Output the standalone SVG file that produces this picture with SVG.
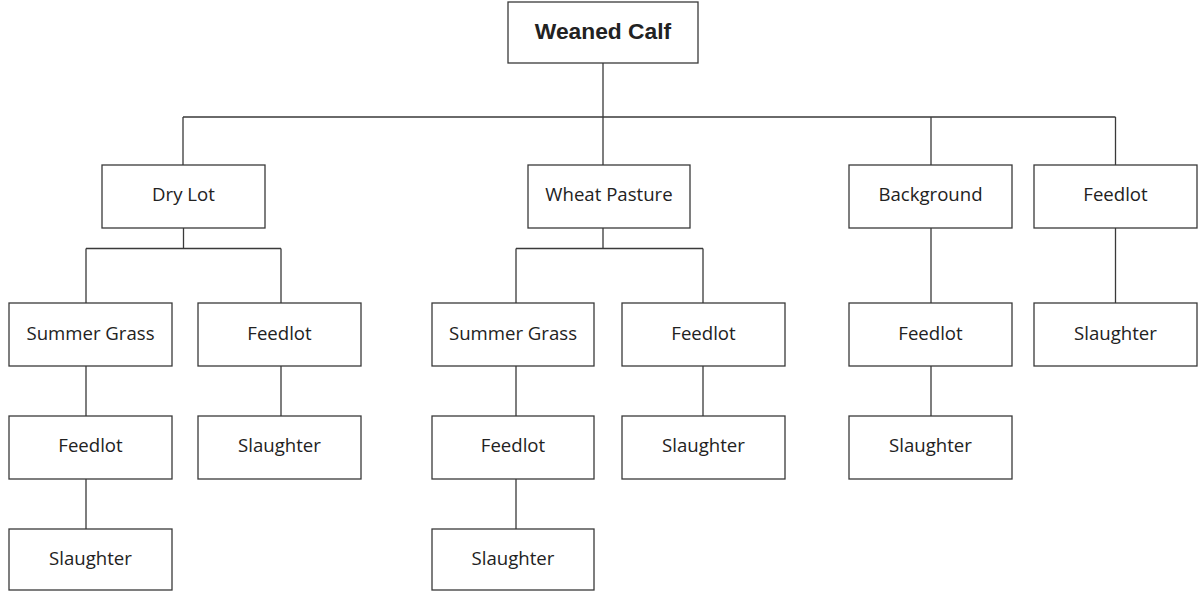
<svg xmlns="http://www.w3.org/2000/svg" width="1199" height="592" viewBox="0 0 1199 592">
<style>
rect.box{fill:#fff;stroke:#3a3a3a;stroke-width:1.3}
text{font-family:"Open Sans","Liberation Sans",sans-serif;font-size:18.6px;fill:#222;text-anchor:middle}
text.title{font-family:"Liberation Sans",Arial,sans-serif;font-weight:bold;font-size:22.8px}
#connectors path{fill:none;stroke:#3a3a3a;stroke-width:1.3}
</style>
<rect width="1199" height="592" fill="#fff"/>
<g id="connectors">
<path d="M603 63V117M183 117H1115.5M183 117V165M603 117V165M931 117V165M1115.5 117V165"/>
<path d="M183.5 228V248.5M86 248.5H281M86 248.5V303M281 248.5V303M86 366V416M86 479V529M281 366V416"/>
<path d="M603 228V248.5M516 248.5H703M516 248.5V303M703 248.5V303M516 366V416M516 479V529M703 366V416"/>
<path d="M931 228V303M931 366V416M1115.5 228V303"/>
</g>
<g id="weaned-calf"><rect class="box" x="508" y="2" width="190" height="61"/><text class="title" x="603" y="39">Weaned Calf</text></g>
<g id="dry-lot"><rect class="box" x="102" y="165" width="163" height="63"/><text x="183.5" y="201">Dry Lot</text></g>
<g id="wheat-pasture"><rect class="box" x="528" y="165" width="162" height="63"/><text x="609" y="201">Wheat Pasture</text></g>
<g id="background"><rect class="box" x="849" y="165" width="163" height="63"/><text x="930.5" y="201">Background</text></g>
<g id="feedlot-f"><rect class="box" x="1034" y="165" width="163" height="63"/><text x="1115.5" y="201">Feedlot</text></g>
<g id="summer-grass-a"><rect class="box" x="9" y="303" width="163" height="63"/><text x="90.5" y="340">Summer Grass</text></g>
<g id="feedlot-b"><rect class="box" x="198" y="303" width="163" height="63"/><text x="279.5" y="340">Feedlot</text></g>
<g id="summer-grass-c"><rect class="box" x="432" y="303" width="162" height="63"/><text x="513" y="340">Summer Grass</text></g>
<g id="feedlot-d"><rect class="box" x="622" y="303" width="163" height="63"/><text x="703.5" y="340">Feedlot</text></g>
<g id="feedlot-e"><rect class="box" x="849" y="303" width="163" height="63"/><text x="930.5" y="340">Feedlot</text></g>
<g id="slaughter-f"><rect class="box" x="1034" y="303" width="163" height="63"/><text x="1115.5" y="340">Slaughter</text></g>
<g id="feedlot-a"><rect class="box" x="9" y="416" width="163" height="63"/><text x="90.5" y="452">Feedlot</text></g>
<g id="slaughter-b"><rect class="box" x="198" y="416" width="163" height="63"/><text x="279.5" y="452">Slaughter</text></g>
<g id="feedlot-c"><rect class="box" x="432" y="416" width="162" height="63"/><text x="513" y="452">Feedlot</text></g>
<g id="slaughter-d"><rect class="box" x="622" y="416" width="163" height="63"/><text x="703.5" y="452">Slaughter</text></g>
<g id="slaughter-e"><rect class="box" x="849" y="416" width="163" height="63"/><text x="930.5" y="452">Slaughter</text></g>
<g id="slaughter-a"><rect class="box" x="9" y="529" width="163" height="61"/><text x="90.5" y="565">Slaughter</text></g>
<g id="slaughter-c"><rect class="box" x="432" y="529" width="162" height="61"/><text x="513" y="565">Slaughter</text></g>
</svg>
